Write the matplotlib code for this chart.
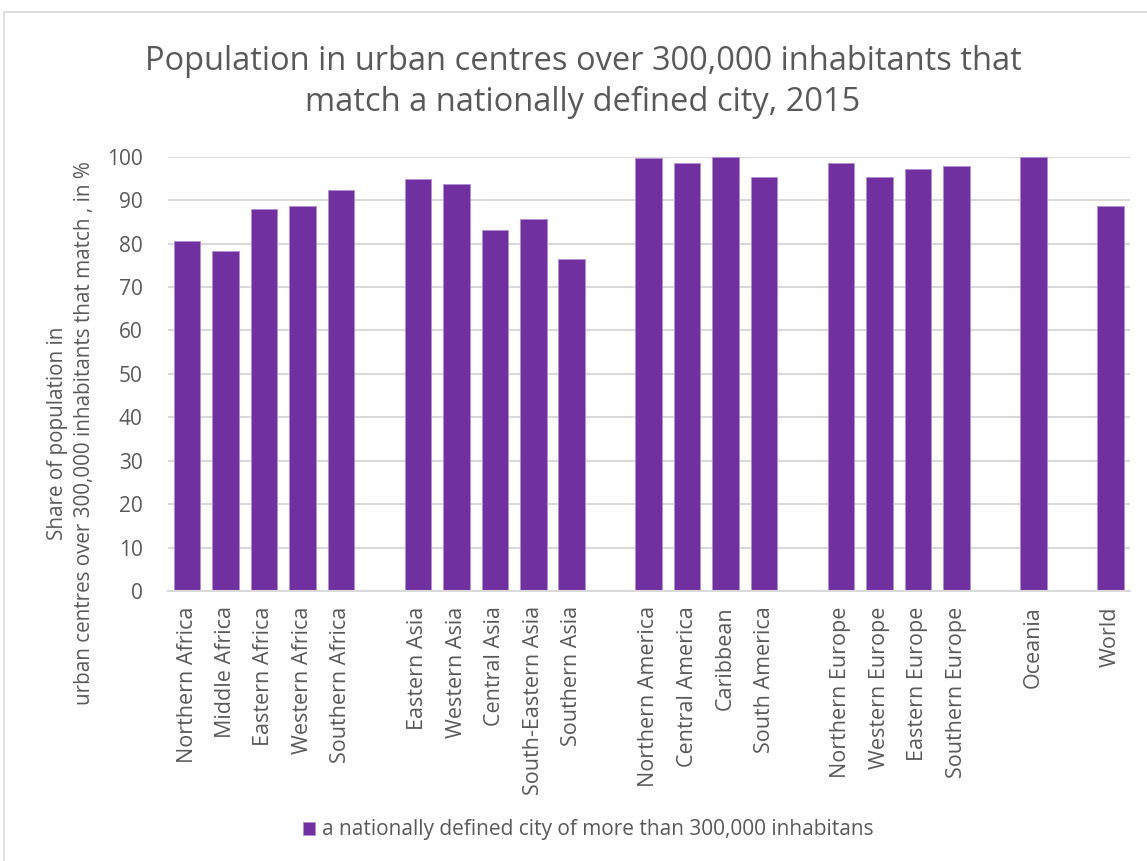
import numpy as np
import matplotlib.pyplot as plt
from matplotlib.patches import Rectangle

regions = ['Northern Africa', 'Middle Africa', 'Eastern Africa', 'Western Africa', 'Southern Africa',
           '',
           'Eastern Asia', 'Western Asia', 'Central Asia', 'South-Eastern Asia', 'Southern Asia',
           '',
           'Northern America', 'Central America', 'Caribbean', 'South America',
           '',
           'Northern Europe', 'Western Europe', 'Eastern Europe', 'Southern Europe',
           '',
           'Oceania',
           '',
           'World']
share = [80.7, 78.2, 88.0, 88.6, 92.3,
         np.nan,
         94.8, 93.6, 83.1, 85.6, 76.4,
         np.nan,
         99.7, 98.5, 100.0, 95.4,
         np.nan,
         98.5, 95.4, 97.2, 97.9,
         np.nan,
         100.0,
         np.nan,
         88.6]
yticks = list(range(0, 101, 10))

purple = '#7030A0'
grey_txt = '#595959'
grid_col = '#D9D9D9'
plt.rcParams['font.family'] = ['Open Sans', 'DejaVu Sans']

fig = plt.figure(figsize=(11.47, 8.61), dpi=100)
# outer chart frame
fig.patches.append(Rectangle((4 / 1147, -0.1), 1.2, (861 - 12) / 861 + 0.1,
                             transform=fig.transFigure, fill=False,
                             edgecolor=grid_col, linewidth=1.2))

ax = fig.add_axes([167.8 / 1147, 1 - 591 / 861, (1129.5 - 167.8) / 1147, (591 - 156.7) / 861])
x = np.arange(len(regions))
vals = np.array(share)
mask = ~np.isnan(vals)
ax.bar(x[mask], vals[mask], width=0.69, color=purple, edgecolor='#B48ED0', linewidth=0.6,
       zorder=3, label='a nationally defined city of more than 300,000 inhabitans')

ax.set_xlim(-0.5, len(regions) - 0.5)
ax.set_ylim(0, 100)
ax.set_yticks(yticks)
ax.yaxis.grid(True, color=grid_col, linewidth=1.5, zorder=0)
for s in ['top', 'right', 'left']:
    ax.spines[s].set_visible(False)
ax.spines['bottom'].set_color(grid_col)
ax.spines['bottom'].set_linewidth(1.5)
ax.spines['bottom'].set_zorder(4)

ax.set_xticks(x[mask])
ax.set_xticklabels([r for r in regions if r], rotation=90, fontsize=15.5, color=grey_txt)
ax.tick_params(axis='x', length=0, pad=11)
ax.tick_params(axis='y', length=0, pad=18, labelsize=15, labelcolor=grey_txt)

ax.set_ylabel('Share of population in\nurban centres over 300,000 inhabitants that match , in %',
              fontsize=14.9, color=grey_txt, linespacing=1.35)
ax.yaxis.set_label_coords(-0.076, 0.364)

fig.text(583 / 1147, 1 - 82 / 861, 'Population in urban centres over 300,000 inhabitants that\nmatch a nationally defined city, 2015',
         ha='center', va='center', fontsize=23.5, color=grey_txt, linespacing=1.3)

fig.legend(loc='center', bbox_to_anchor=(588 / 1147, 1 - 830 / 861), frameon=False,
           fontsize=15, labelcolor=grey_txt, handlelength=0.6, handleheight=0.6,
           handletextpad=0.3)

fig.savefig('out.png', dpi=100)
